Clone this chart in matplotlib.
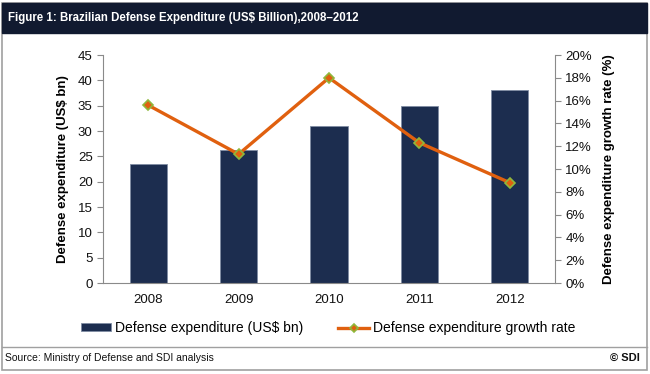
import matplotlib
matplotlib.use("Agg")
from matplotlib import pyplot as plt
from matplotlib.patches import Rectangle
from matplotlib.lines import Line2D
from matplotlib.ticker import FuncFormatter
import numpy as np

years = ["2008", "2009", "2010", "2011", "2012"]
expenditure = [23.5, 26.2, 31.0, 34.9, 38.1]        # US$ bn
growth_rate = [15.6, 11.3, 18.0, 12.3, 8.8]         # %

plt.rcParams['font.family'] = ['Liberation Sans', 'DejaVu Sans']

bar_color = '#1c2d4f'
line_color = '#e0600f'
axis_gray = '#8a8a8a'

fig = plt.figure(figsize=(6.5, 3.74), dpi=100)

# outer frame, title bar and separator line
fig.patches.append(Rectangle((2 / 650, 4 / 374), 645 / 650, 367 / 374, transform=fig.transFigure,
                             fill=False, edgecolor='#a0a0a0', linewidth=1.2))
fig.patches.append(Rectangle((2 / 650, 1 - 33 / 374), 645 / 650, 30 / 374, transform=fig.transFigure,
                             facecolor='#111a30', edgecolor='#111a30'))
fig.add_artist(Line2D([2 / 650, 647 / 650], [1 - 347 / 374] * 2, transform=fig.transFigure,
                      color='#a0a0a0', linewidth=1.0))

fig.text(8 / 650, 1 - 18 / 374, "Figure 1: Brazilian Defense Expenditure (US$ Billion),2008\u20132012",
         color='white', fontsize=8.3, fontweight='bold', va='center')
fig.text(5 / 650, 1 - 358 / 374, "Source: Ministry of Defense and SDI analysis",
         fontsize=7.5, va='center', color='#111111')
fig.text(640 / 650, 1 - 358 / 374, "\u00a9 SDI", fontsize=8, fontweight='bold',
         va='center', ha='right', color='#111111')

ax = fig.add_axes([103 / 650, 1 - 283 / 374, 452 / 650, 228 / 374])
x = np.arange(len(years))
ax.bar(x, expenditure, width=0.41, color=bar_color, edgecolor='#7f8ca3', linewidth=0.6,
       label='Defense expenditure (US$ bn)', zorder=2)
ax.set_xlim(-0.5, 4.5)
ax.set_ylim(0, 45)
ax.set_yticks(np.arange(0, 46, 5))
ax.set_xticks(x)
ax.set_xticklabels(years)
ax.set_ylabel('Defense expenditure (US$ bn)', fontsize=9.5, fontweight='bold', labelpad=6)

ax2 = ax.twinx()
ax2.plot(x, growth_rate, color=line_color, linewidth=2.4, marker='D', markersize=5,
         markerfacecolor=line_color, markeredgecolor='#8fb83c', markeredgewidth=1.2,
         label='Defense expenditure growth rate', zorder=3)
ax2.set_ylim(0, 20)
ax2.set_yticks(np.arange(0, 21, 2))
ax2.yaxis.set_major_formatter(FuncFormatter(lambda v, p: f"{v:.0f}%"))
ax2.set_ylabel('Defense expenditure growth rate (%)', fontsize=9.5, fontweight='bold', labelpad=8)

for a in (ax, ax2):
    a.spines['top'].set_visible(False)
    for s in a.spines.values():
        s.set_color(axis_gray)
    a.tick_params(colors=axis_gray, labelcolor='#111111', labelsize=9.5, length=4)
ax.spines['right'].set_visible(False)
ax2.spines['left'].set_visible(False)
ax2.spines['bottom'].set_visible(False)
ax.tick_params(axis='x', length=0, pad=8)

h1, l1 = ax.get_legend_handles_labels()
h2, l2 = ax2.get_legend_handles_labels()
leg = fig.legend(h1 + h2, l1 + l2, loc='center', bbox_to_anchor=(328 / 650, 1 - 328 / 374), ncol=2,
                 frameon=False, fontsize=10, handlelength=2.2, handleheight=0.45, handletextpad=0.3,
                 columnspacing=2.5, markerscale=0.8)

fig.savefig('out.png', dpi=100)
